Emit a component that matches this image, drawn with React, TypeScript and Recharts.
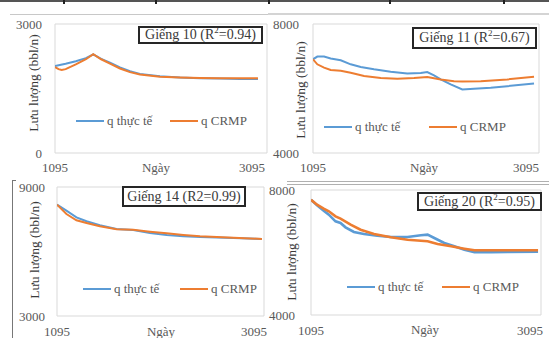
import React from 'react';
import { LineChart, Line, XAxis, YAxis, ReferenceArea, Legend } from 'recharts';

const FONT = '"Liberation Serif", "Times New Roman", serif';
const BLUE = '#5B9BD5';
const ORANGE = '#ED7D31';

const dayTicks = [1095, 3095];
const seriesNames = ['q thực tế', 'q CRMP'];
const seriesColors = [BLUE, ORANGE];

// Giếng 10
const g10ActualDays = [1095, 1200, 1300, 1400, 1472, 1550, 1637, 1735, 1834, 1932, 2129, 2326, 2523, 2720, 2917, 3095];
const g10ActualRate = [2020, 2075, 2135, 2205, 2295, 2190, 2100, 1990, 1900, 1840, 1785, 1755, 1740, 1730, 1722, 1722];
const g10CrmpDays = [1095, 1130, 1161, 1200, 1300, 1400, 1472, 1550, 1637, 1735, 1834, 1932, 2129, 2326, 2523, 2720, 2917, 3095];
const g10CrmpRate = [2000, 1950, 1929, 1950, 2060, 2180, 2297, 2180, 2080, 1965, 1880, 1825, 1775, 1755, 1745, 1740, 1737, 1737];

// Giếng 11
const g11ActualDays = [1095, 1134, 1195, 1255, 1346, 1436, 1527, 1647, 1798, 1948, 2070, 2129, 2190, 2251, 2341, 2446, 2552, 2703, 2853, 3095];
const g11ActualRate = [6906, 6990, 6990, 6928, 6875, 6750, 6666, 6594, 6521, 6469, 6478, 6510, 6406, 6281, 6125, 5969, 5990, 6021, 6072, 6156];
const g11CrmpDays = [1095, 1134, 1195, 1255, 1346, 1436, 1557, 1708, 1858, 2009, 2129, 2251, 2371, 2446, 2613, 2853, 3095];
const g11CrmpRate = [6906, 6750, 6646, 6572, 6552, 6490, 6385, 6322, 6303, 6322, 6353, 6281, 6228, 6219, 6228, 6281, 6365];

// Giếng 14
const g14Days = [1095, 1187, 1285, 1383, 1513, 1676, 1839, 2002, 2165, 2328, 2491, 2817, 3095];
const g14ActualRate = [8177, 7898, 7590, 7405, 7219, 7047, 7001, 6861, 6768, 6707, 6675, 6628, 6582];
const g14CrmpRate = [8177, 7745, 7451, 7326, 7172, 7031, 7016, 6923, 6846, 6768, 6707, 6644, 6582];

// Giếng 20
const g20ActualDays = [1095, 1148, 1207, 1252, 1311, 1355, 1399, 1473, 1561, 1679, 1798, 1945, 2063, 2122, 2181, 2269, 2358, 2446, 2535, 2683, 2830, 3095];
const g20ActualRate = [7690, 7510, 7338, 7210, 6998, 6944, 6806, 6656, 6592, 6538, 6496, 6496, 6550, 6570, 6464, 6304, 6198, 6090, 6006, 6006, 6016, 6026];
const g20CrmpDays = [1095, 1148, 1207, 1252, 1311, 1355, 1444, 1532, 1650, 1798, 1945, 2122, 2210, 2329, 2446, 2535, 2683, 3095];
const g20CrmpRate = [7690, 7530, 7402, 7318, 7158, 7082, 6890, 6730, 6592, 6486, 6410, 6358, 6272, 6198, 6122, 6070, 6070, 6070];

const toPoints = (days: number[], rate: number[]) => days.map((d, i) => ({ day: d, q: rate[i] }));

type Panel = {
  well: string;
  r2: string;
  sup: boolean;
  actual: { day: number; q: number }[];
  crmp: { day: number; q: number }[];
  yTicks: number[];
  box: number[]; // left, top, width, height
  mTop: number;
  mRight: number;
  yw: number;
  xh: number;
  xMax: number;
  yGap: number;
  xGap: number;
  lastDx: number;
  yTitle: number[];
  xTitle: number[];
  legend: number[]; // left, top, second item offset
  tbox: number[]; // left, top, width, height
  lineW: number;
};

const panels: Panel[] = [
  {
    well: '10', r2: '0.94', sup: true,
    actual: toPoints(g10ActualDays, g10ActualRate), crmp: toPoints(g10CrmpDays, g10CrmpRate),
    yTicks: [0, 3000], box: [0, 14, 272, 162], mTop: 10, mRight: 5, yw: 55, xh: 23, xMax: 3184,
    yGap: 13, xGap: 10, lastDx: -6, yTitle: [33, 69], xTitle: [156, 14], legend: [76, 99, 94],
    tbox: [138, 12, 125, 18], lineW: 2,
  },
  {
    well: '11', r2: '0.67', sup: true,
    actual: toPoints(g11ActualDays, g11ActualRate), crmp: toPoints(g11CrmpDays, g11CrmpRate),
    yTicks: [4000, 8000], box: [264, 14, 285, 162], mTop: 10, mRight: 10, yw: 49, xh: 23, xMax: 3140,
    yGap: 14, xGap: 10, lastDx: -8, yTitle: [36, 76], xTitle: [160, 14], legend: [60, 105, 105],
    tbox: [148, 13, 125, 22], lineW: 2,
  },
  {
    well: '14', r2: '0.99', sup: false,
    actual: toPoints(g14Days, g14ActualRate), crmp: toPoints(g14Days, g14CrmpRate),
    yTicks: [3000, 9000], box: [0, 178, 272, 160], mTop: 9, mRight: 8, yw: 57, xh: 22, xMax: 3115,
    yGap: 12, xGap: 11, lastDx: -8, yTitle: [34, 72], xTitle: [161, 15], legend: [83, 103, 97],
    tbox: [122, 8, 124, 21], lineW: 2,
  },
  {
    well: '20', r2: '0.95', sup: true,
    actual: toPoints(g20ActualDays, g20ActualRate), crmp: toPoints(g20CrmpDays, g20CrmpRate),
    yTicks: [4000, 8000], box: [262, 180, 287, 158], mTop: 10, mRight: 8, yw: 49, xh: 23, xMax: 3121,
    yGap: 16, xGap: 11, lastDx: -8, yTitle: [29, 72], xTitle: [163, 14], legend: [85, 99, 95],
    tbox: [155, 12, 125, 19], lineW: 2.6,
  },
];

const DayTick = (props: any) => {
  const { x, y, payload, lastDx } = props;
  const dx = payload.value === dayTicks[dayTicks.length - 1] ? lastDx : 0;
  return (
    <text x={x + dx} y={y} dy="0.71em" textAnchor="middle" fill="#595959" fontSize={13} fontFamily={FONT}>
      {payload.value}
    </text>
  );
};

const RateTick = (props: any) => {
  const { x, y, payload } = props;
  return (
    <text x={x} y={y} dy="0.35em" textAnchor="end" fill="#595959" fontSize={13} fontFamily={FONT}>
      {payload.value}
    </text>
  );
};

const YTitle = (props: any) => {
  const { cx, cy } = props;
  return (
    <text
      x={cx}
      y={cy}
      transform={`rotate(-90, ${cx}, ${cy})`}
      textAnchor="middle"
      dominantBaseline="central"
      fill="#3a3a3a"
      fontSize={13.5}
      fontFamily={FONT}
    >
      Lưu lượng (bbl/n)
    </text>
  );
};

const XTitle = (props: any) => {
  const { cx, cy } = props;
  return (
    <text x={cx} y={cy} textAnchor="middle" dominantBaseline="central" fill="#595959" fontSize={13} fontFamily={FONT}>
      Ngày
    </text>
  );
};

const LegendBody = ({ payload, second }: any) => {
  const items = seriesNames.map((n, i) => {
    const hit = (payload || []).find((e: any) => e.value === n);
    return { value: n, color: hit && hit.color ? hit.color : seriesColors[i] };
  });
  return (
    <div style={{ position: 'relative', height: 16, width: 200, fontFamily: FONT, fontSize: 13, color: '#595959' }}>
      {items.map((it, i) => (
        <div
          key={it.value}
          style={{ position: 'absolute', left: i * second, top: 0, height: 16, display: 'flex', alignItems: 'center', whiteSpace: 'nowrap' }}
        >
          <span style={{ display: 'inline-block', width: 28, height: 2.5, background: it.color }} />
          <span style={{ marginLeft: 3 }}>{it.value}</span>
        </div>
      ))}
    </div>
  );
};

const WellChart = ({ p }: { p: Panel }) => {
  const [bl, bt, bw, bh] = p.box;
  const plotBottom = bh - p.xh;
  return (
    <div style={{ position: 'absolute', left: bl, top: bt, width: bw, height: bh }}>
      <LineChart width={bw} height={bh} margin={{ top: p.mTop, right: p.mRight, left: 0, bottom: 0 }}>
        <XAxis
          type="number"
          dataKey="day"
          domain={[1095, p.xMax]}
          ticks={dayTicks}
          interval={0}
          allowDataOverflow
          height={p.xh}
          axisLine={false}
          tickLine={false}
          tickSize={0}
          tickMargin={p.xGap}
          tick={<DayTick lastDx={p.lastDx} />}
          label={<XTitle cx={p.xTitle[0]} cy={plotBottom + p.xTitle[1]} />}
        />
        <YAxis
          type="number"
          domain={[p.yTicks[0], p.yTicks[1]]}
          ticks={p.yTicks}
          interval={0}
          allowDataOverflow
          width={p.yw}
          axisLine={false}
          tickLine={false}
          tickSize={0}
          tickMargin={p.yGap}
          tick={<RateTick />}
          label={<YTitle cx={p.yTitle[0]} cy={p.yTitle[1]} />}
        />
        <ReferenceArea
          x1={1095}
          x2={p.xMax}
          y1={p.yTicks[0]}
          y2={p.yTicks[1]}
          fill="none"
          fillOpacity={0}
          stroke="#d9d9d9"
          strokeWidth={1}
        />
        <Line
          data={p.actual}
          dataKey="q"
          name={seriesNames[0]}
          type="linear"
          stroke={BLUE}
          strokeWidth={p.lineW}
          dot={false}
          activeDot={false}
          isAnimationActive={false}
        />
        <Line
          data={p.crmp}
          dataKey="q"
          name={seriesNames[1]}
          type="linear"
          stroke={ORANGE}
          strokeWidth={p.lineW}
          dot={false}
          activeDot={false}
          isAnimationActive={false}
        />
        <Legend
          layout="horizontal"
          verticalAlign="middle"
          align="center"
          wrapperStyle={{ left: p.legend[0], top: p.legend[1], width: 200, height: 16 }}
          content={(props: any) => <LegendBody payload={props.payload} second={p.legend[2]} />}
        />
      </LineChart>
      <div
        style={{
          position: 'absolute',
          left: p.tbox[0],
          top: p.tbox[1],
          width: p.tbox[2],
          height: p.tbox[3],
          boxSizing: 'border-box',
          border: '2px solid #262626',
          background: '#fff',
          display: 'flex',
          alignItems: 'center',
          justifyContent: 'center',
          fontFamily: FONT,
          fontSize: 14,
          color: '#3a3a3a',
          whiteSpace: 'nowrap',
        }}
      >
        {p.sup ? (
          <span>
            Giếng {p.well} (R<sup style={{ fontSize: 9, lineHeight: 0 }}>2</sup>={p.r2})
          </span>
        ) : (
          <span>
            Giếng {p.well} (R2={p.r2})
          </span>
        )}
      </div>
    </div>
  );
};

const line = (left: number, top: number, width: number, height: number, color: string) => (
  <div style={{ position: 'absolute', left, top, width, height, background: color }} />
);

export default function App() {
  return (
    <div style={{ position: 'absolute', left: 0, top: 0, width: 549, height: 338, background: '#fff', overflow: 'hidden' }}>
      {line(0, 0, 549, 2, '#555')}
      {[63, 155, 268, 389, 503].map((x) => (
        <div key={x} style={{ position: 'absolute', left: x, top: 0, width: 2, height: 4, background: '#222' }} />
      ))}
      {line(10, 14, 258, 1, '#c8c8c8')}
      {line(268, 13, 281, 2, '#d4d4d4')}
      {line(287, 181, 262, 1, '#b0b0b0')}
      {line(287, 184, 262, 1, '#b0b0b0')}
      {line(12, 180, 1, 158, '#777')}
      {line(12, 180, 4, 1, '#777')}
      {panels.map((p) => (
        <WellChart key={p.well} p={p} />
      ))}
    </div>
  );
}
